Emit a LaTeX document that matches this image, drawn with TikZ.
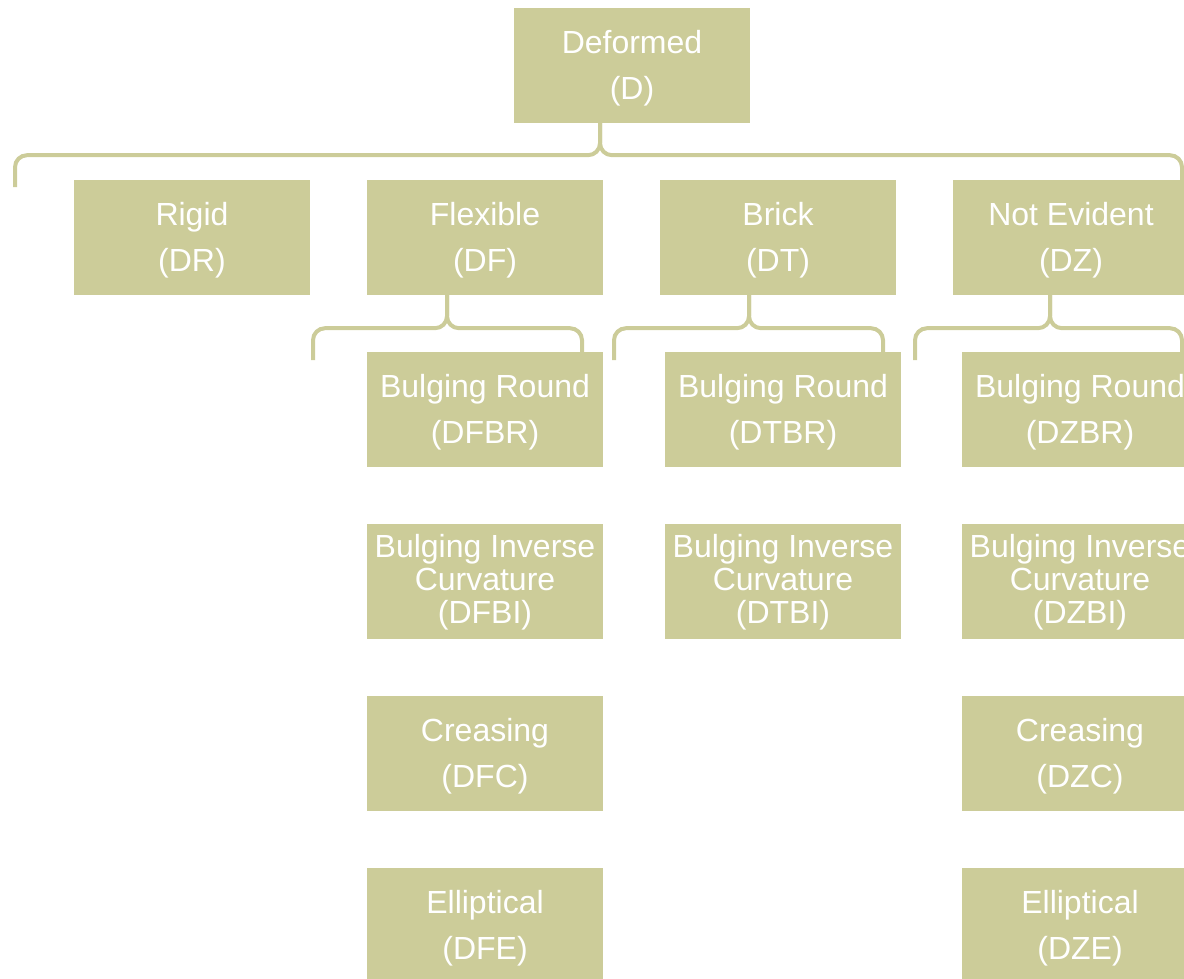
\documentclass[tikz,border=0pt]{standalone}
\usepackage{fontspec}
\setmainfont{Liberation Sans}
\usetikzlibrary{positioning}
\definecolor{sand}{HTML}{CCCC99}

\begin{document}
\begin{tikzpicture}[
    x=1pt, y=-1pt,
    category/.style={rectangle, fill=sand, minimum width=236pt, minimum height=115pt, inner sep=0pt, align=center, text=white, font=\fontsize{32}{46}\selectfont, text height=75pt},
    tight/.style={font=\fontsize{32}{33}\selectfont, text height=91pt},
    brace/.style={draw=sand, line width=4pt, rounded corners=12pt}
]
\clip (0,0) rectangle (1184,978);

\node[category] (d) at (632,65.5) {Deformed\\(D)};

\node[category] (dr) at (192,237.5) {Rigid\\(DR)};
\node[category] (df) at (485,237.5) {Flexible\\(DF)};
\node[category] (dt) at (778,237.5) {Brick\\(DT)};
\node[category] (dz) at (1071,237.5) {Not Evident\\(DZ)};

\node[category] (dfbr) at (485,409.5) {Bulging Round\\(DFBR)};
\node[category, tight] (dfbi) at (485,581.5) {Bulging Inverse\\Curvature\\(DFBI)};
\node[category] (dfc) at (485,753.5) {Creasing\\(DFC)};
\node[category] (dfe) at (485,925.5) {Elliptical\\(DFE)};

\node[category] (dtbr) at (783,409.5) {Bulging Round\\(DTBR)};
\node[category, tight] (dtbi) at (783,581.5) {Bulging Inverse\\Curvature\\(DTBI)};

\node[category] (dzbr) at (1080,409.5) {Bulging Round\\(DZBR)};
\node[category, tight] (dzbi) at (1080,581.5) {Bulging Inverse\\Curvature\\(DZBI)};
\node[category] (dzc) at (1080,753.5) {Creasing\\(DZC)};
\node[category] (dze) at (1080,925.5) {Elliptical\\(DZE)};

% brace ends
\coordinate (topL) at (15,187);
\coordinate (topR) at (1182,180);
\coordinate (dfL) at (313,360);
\coordinate (dfR) at (582,352);
\coordinate (dtL) at (614,360);
\coordinate (dtR) at (883,352);
\coordinate (dzL) at (915,360);
\coordinate (dzR) at (1182,352);

% braces
\draw[brace] ([xshift=-32]d.south) -- ++(0,32) -| (topL);
\draw[brace] ([xshift=-32]d.south) -- ++(0,32) -| (topR);
\draw[brace] ([xshift=-38]df.south) -- ++(0,33) -| (dfL);
\draw[brace] ([xshift=-38]df.south) -- ++(0,33) -| (dfR);
\draw[brace] ([xshift=-29]dt.south) -- ++(0,33) -| (dtL);
\draw[brace] ([xshift=-29]dt.south) -- ++(0,33) -| (dtR);
\draw[brace] ([xshift=-21]dz.south) -- ++(0,33) -| (dzL);
\draw[brace] ([xshift=-21]dz.south) -- ++(0,33) -| (dzR);

\end{tikzpicture}
\end{document}
